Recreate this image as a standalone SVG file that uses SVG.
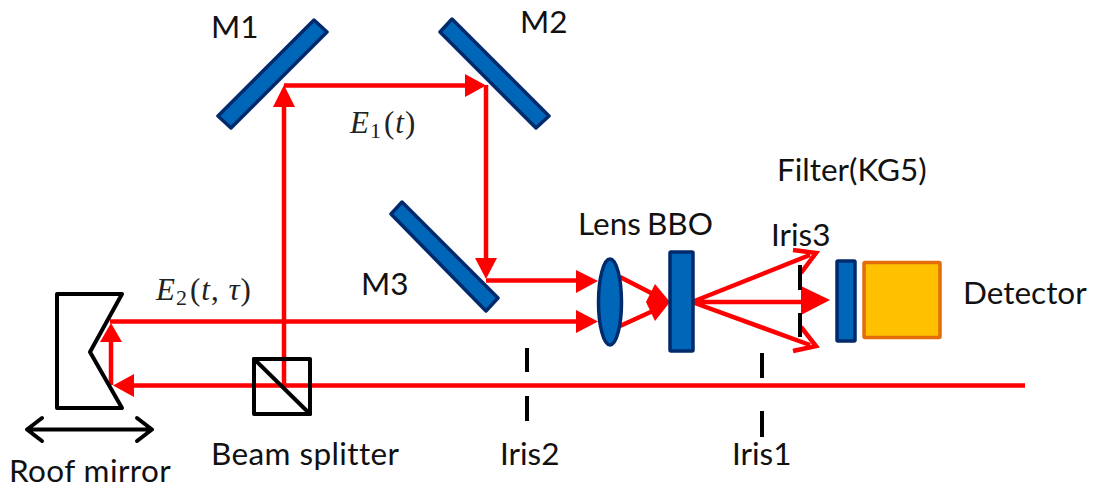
<svg xmlns="http://www.w3.org/2000/svg" width="1096" height="489" viewBox="0 0 1096 489">
<style>
text{font-family:"Lato","Open Sans","Liberation Sans",sans-serif;font-size:31.500px;fill:#111}
.m{font-family:"Liberation Serif",serif;font-size:31px;fill:#222;letter-spacing:1px}
.i{font-style:italic}
.s{font-size:22px}
.w{letter-spacing:.4px}
.b{fill:#0066b8;stroke:#002a6c;stroke-width:3.5;stroke-linejoin:round}
.k{fill:none;stroke:#000;stroke-width:4;stroke-linejoin:round;stroke-linecap:round}
.r{fill:none;stroke:#f00;stroke-width:4.500}
.h{fill:#f00}
.d{fill:none;stroke:#000;stroke-width:4}
</style>
<rect width="1096" height="489" fill="#fff"/>
<g id="connectors">
<path class="r" d="M1025 385.500H125"/>
<path class="h" d="M113 385.500L134 374V397Z"/>
<path class="r" d="M111 385V340"/>
<path class="h" d="M111 323L122 342H100Z"/>
<path class="r" d="M110 321.500H580"/>
<path class="h" d="M598 321.500L576 310V333Z"/>
<path class="r" d="M284 385V100"/>
<path class="h" d="M284 85L295 107H273Z"/>
<path class="r" d="M284 85.500H470"/>
<path class="h" d="M486 85.500L465 74V97Z"/>
<path class="r" d="M486 85V265"/>
<path class="h" d="M486 279L475 258H497Z"/>
<path class="r" d="M486 280.500H580"/>
<path class="h" d="M598 281L576 270V293Z"/>
<path class="r" d="M620 277L655 295M620 326L655 310"/>
<path class="h" d="M670 302L655 284L646 302L655 321Z"/>
<path class="r" d="M692 302L810 255M692 302H812M692 302L810 345"/>
<path class="h" d="M830 300L801 286V315Z"/>
<path class="r" d="M793 250L816 253L801 273M793 351L816 346L801 327"/>
</g>
<g id="m1"><path class="b" d="M314 20L327 32L231 128L218 116Z"/><text x="211" y="38">M1</text></g>
<g id="m2"><path class="b" d="M452 19L440 32L536 128L549 116Z"/><text x="520" y="33">M2</text></g>
<g id="m3"><path class="b" d="M402 202L391 214L486 311L498 298Z"/><text x="361" y="295">M3</text></g>
<g id="e1"><text class="m" x="350" y="133"><tspan class="i">E</tspan><tspan class="s" dy="5">1</tspan><tspan dy="-5" dx="2">(</tspan><tspan class="i">t</tspan>)</text></g>
<g id="e2"><text class="m" x="156" y="300"><tspan class="i">E</tspan><tspan class="s" dy="5">2</tspan><tspan dy="-5" dx="2">(</tspan><tspan class="i">t</tspan>, <tspan class="i">τ</tspan>)</text></g>
<g id="roof-mirror">
<path class="k" d="M57 294H122L90 352L122 408H57Z"/>
<path class="k" d="M27 429.500H152M42 418L27 429.500L42 441M137 418L152 429.500L137 441"/>
<text class="w" x="9" y="482">Roof mirror</text>
</g>
<g id="beam-splitter">
<rect class="k" x="254" y="359" width="56" height="55"/>
<path class="k" d="M254 359L310 414"/>
<text class="w" x="211" y="465">Beam splitter</text>
</g>
<g id="iris2"><path class="d" d="M527 348V372M527 396V421"/><text x="500" y="465">Iris2</text></g>
<g id="iris1"><path class="d" d="M762 353V378M762 411V437"/><text x="732" y="465">Iris1</text></g>
<g id="lens"><ellipse class="b" cx="610" cy="302" rx="11.500" ry="43"/><text x="578" y="235">Lens</text></g>
<g id="bbo"><rect class="b" x="670" y="252" width="23" height="99" rx="1"/><text x="647" y="235">BBO</text></g>
<g id="iris3"><path class="d" d="M800 265V290M800 313V337"/><text x="771" y="246">Iris3</text></g>
<g id="filter"><rect class="b" x="837" y="261" width="18" height="80" rx="1"/><text x="777" y="181">Filter(KG5)</text></g>
<g id="detector"><rect x="864" y="262.500" width="76" height="75" fill="#ffc000" stroke="#e46c0a" stroke-width="3.500" rx="1"/><text x="963" y="304">Detector</text></g>
</svg>
